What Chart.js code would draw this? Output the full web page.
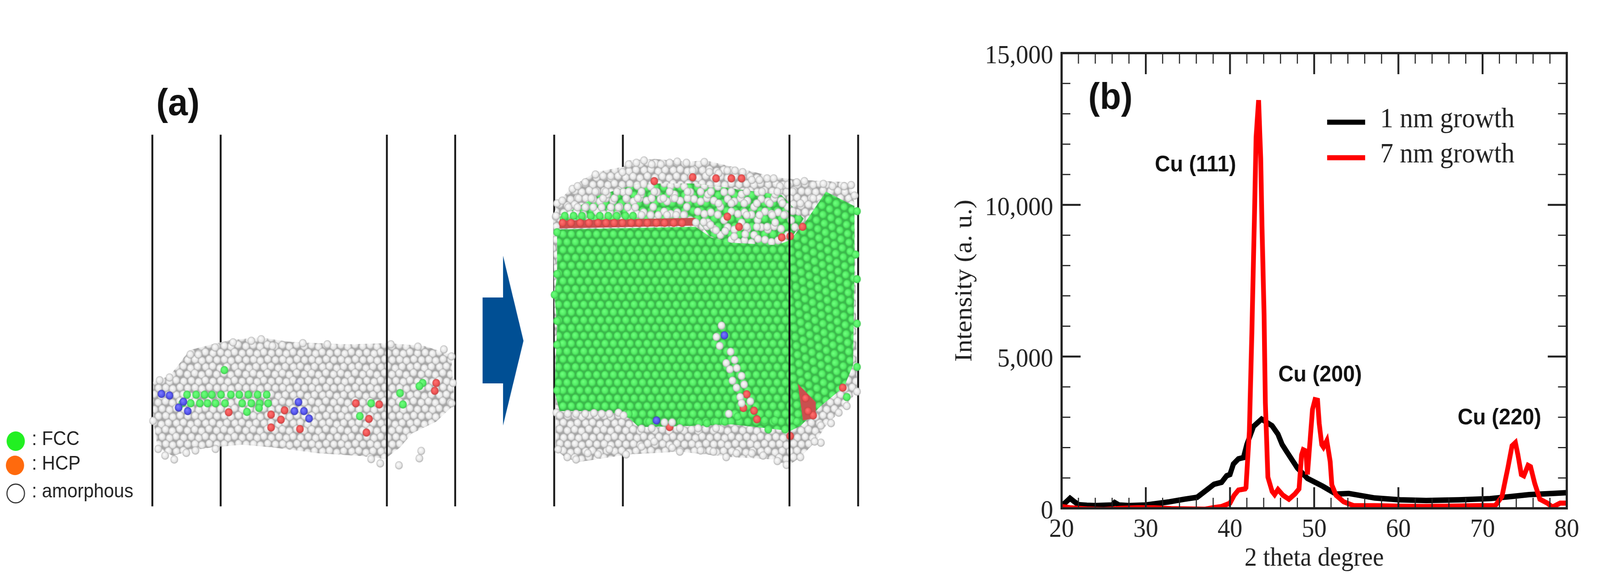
<!DOCTYPE html>
<html><head><meta charset="utf-8">
<script src="https://cdn.jsdelivr.net/npm/chart.js@4"></script>
<style>html,body{margin:0;padding:0;background:#fff;overflow:hidden}
canvas{position:absolute;top:0}</style></head>
<body>
<canvas id="panelA" width="2500" height="1501"></canvas>
<canvas id="panelB" width="1880" height="1501"></canvas>
<script>
// ---------- panel (b) data ----------
const blackX = [20,20.5,21,21.5,22,23,24,25,26,26.3,26.8,28,30,32.8,34.6,36.1,37.4,38.1,39,39.6,40,40.4,41,41.6,42,42.8,43.75,45,45.7,46.2,46.8,48,49.2,51,52.6,54.1,57.2,60.2,63.3,67.2,70.9,73.3,75.5,78.5,80];
const blackY = [80,200,330,220,120,100,90,100,110,190,110,90,110,214,300,364,640,793,857,1072,1115,1458,1630,1670,2100,2700,2940,2720,2440,2100,1840,1330,986,730,470,490,340,280,257,280,320,386,450,493,515];
const redX = [20,21,23,25,27,29,31,33,35,37,38,39,40,40.5,41,41.8,41.9,42.3,42.6,42.9,43.1,43.4,43.65,43.8,44.05,44.2,44.5,45,45.3,45.7,46.3,47,47.7,48.2,48.5,48.7,49,49.2,49.5,49.8,50.1,50.4,50.6,50.9,51.1,51.5,51.9,52.1,52.6,53.5,54.7,57.2,60,63,66,69.4,71.5,72.3,73,73.5,73.9,74.2,74.6,74.9,75.4,75.7,76.2,76.8,77.7,78.3,79.2,80];
const redY = [60,20,-20,-40,0,20,20,-10,-20,-30,20,60,170,430,600,640,680,2540,5800,9540,12230,13450,11530,9300,6400,3480,1030,557,450,620,430,300,470,640,1760,1930,1890,1115,2190,3260,3580,3560,2790,2100,2015,2230,1540,770,430,214,86,86,70,60,70,86,86,386,1330,2060,2165,1760,1115,1070,1415,1370,815,300,170,40,170,170];
const seriesNames = ['1 nm growth','7 nm growth'];
const xAxisTitle = '2 theta degree';
const yAxisTitle = 'Intensity (a. u.)';
const peakLabels = ['Cu (111)','Cu (200)','Cu (220)'];
const peakLabelX = [35.9,50.7,72.0];
const peakLabelY = [11308,4385,2970];

// ---------- panel (a) data (picture-pixel units) ----------
const barrierX = [417,604,1059,1246,1517,1705,2161,2349];
const arrowShape = [[1321,762],[1377,762],[1377,655],[1433,873],[1377,1090],[1377,982],[1321,982]];
const beforeBody = [[419,978],[464,963],[489,934],[518,897],[580,882],[630,871],[713,864],[788,875],[871,879],[954,882],[1061,879],[1161,886],[1235,908],[1244,1036],[1194,1080],[1128,1110],[1095,1146],[1053,1176],[987,1168],[871,1161],[746,1146],[663,1139],[580,1146],[522,1154],[473,1168],[431,1146],[419,1073]];
const afterBody = [[1525,521],[1567,477],[1630,441],[1707,427],[1721,411],[1791,407],[1882,414],[1932,411],[2037,434],[2121,454],[2198,461],[2328,467],[2339,521],[2346,1003],[2311,1043],[2261,1090],[2233,1131],[2191,1171],[2156,1194],[2121,1177],[2002,1171],[1861,1157],[1721,1164],[1581,1184],[1546,1171],[1521,1151],[1521,1057],[1514,555]];
const afterCrystal = [[1525,588],[1904,581],[1946,608],[2002,622],[2128,628],[2163,615],[2163,1104],[2100,1097],[2002,1087],[1932,1090],[1749,1094],[1714,1064],[1651,1053],[1532,1053],[1518,1003],[1525,836],[1518,755],[1525,702]];
const afterSideFace = [[2163,615],[2205,568],[2261,491],[2339,528],[2339,702],[2335,936],[2311,990],[2247,1040],[2191,1091],[2163,1104]];
const afterUpperCrystal = [[1532,555],[1640,500],[1750,470],[1905,470],[2140,500],[2200,560],[2163,615],[2128,628],[2002,622],[1946,608],[1904,560],[1532,565]];
const afterRedBand = [[1532,565],[1904,558],[1904,578],[1532,585]];
const afterRedCluster = [[2184,983],[2233,1030],[2233,1070],[2198,1077]];

const beforeGreen = [[512,1011],[537,1011],[560,1011],[580,1011],[605,1011],[632,1011],[655,1011],[680,1011],[705,1011],[730,1011],[499,1033],[522,1033],[547,1033],[568,1033],[590,1033],[616,1033],[663,1033],[688,1033],[711,1033],[734,1033],[676,1055],[709,1045],[1016,1033],[985,1066],[1095,1007],[1103,1036],[1157,981],[1148,989],[614,948]];
const beforeBlue = [[442,1009],[464,1013],[502,1029],[489,1044],[514,1053],[817,1030],[806,1053],[832,1053],[846,1072]];
const beforeRed = [[626,1056],[742,1062],[769,1075],[821,1099],[1003,1108],[1038,1036],[1194,981],[1190,1001],[1010,1073],[779,1051],[974,1033],[742,1095]];
const beforeGrey = [[1092,1192],[1148,1174],[1153,1155],[1041,1187],[1016,1176],[477,1177],[452,1167],[433,1150],[510,1160],[535,1154],[590,1150],[419,1078],[521,908],[543,908],[589,890],[614,886],[638,877],[688,873],[715,869],[746,886],[829,879],[896,882],[1070,882],[1144,888],[1215,895],[1236,913],[1240,981],[1236,1033],[437,974],[464,967]];
const afterGreyEdge = [[1525,521],[1539,514],[1567,484],[1581,477],[1602,467],[1630,447],[1651,451],[1672,451],[1704,441],[1721,421],[1742,417],[1763,411],[1784,421],[1809,421],[1833,417],[1854,414],[1879,417],[1896,437],[1928,415],[1942,441],[1967,444],[1991,437],[2012,437],[2033,441],[2058,461],[2079,461],[2100,457],[2118,457],[2135,477],[2156,474],[2181,467],[2202,464],[2226,474],[2254,471],[2279,477],[2311,477],[2330,474],[2339,501],[2346,1003],[2318,1040],[2296,1057],[2275,1084],[2247,1090],[2247,1134],[2230,1131],[2191,1171],[2153,1191],[2128,1181],[2089,1167],[2058,1161],[2016,1161],[1988,1171],[1953,1157],[1918,1154],[1861,1157],[1840,1147],[1791,1131],[1756,1144],[1714,1164],[1668,1151],[1637,1164],[1609,1161],[1577,1177],[1553,1171],[1528,1151],[1523,1057],[1521,555]];
const afterGreenEdge = [[2346,541],[2342,652],[2346,715],[2346,829],[2346,940],[2318,1017],[1518,755],[1525,702],[1525,595],[1525,822],[1525,883],[1525,1000],[2103,1100],[2184,1080],[2149,1100],[1721,1060],[1749,1080],[1777,1080],[1868,1080],[1889,1080],[1914,1084],[1935,1084],[1960,1080],[1984,1080],[2019,1067],[2093,1077],[2121,1077],[2181,1080]];
const afterGreenRow = [[1546,553],[1570,553],[1593,553],[1617,553],[1642,553],[1665,553],[1688,553],[1712,553],[1733,553]];
const afterRedRow = [[1540,571],[1563,571],[1588,571],[1612,571],[1637,571],[1659,571],[1681,571],[1704,571],[1728,571],[1749,571],[1772,571],[1797,571],[1819,571],[1844,571],[1867,571]];
const afterRed = [[2197,581],[2140,608],[2163,605],[2044,1010],[2035,1045],[2064,1052],[2072,1074],[2163,1117],[2205,1020],[2226,1064],[2212,1053],[2307,993],[1991,555],[2023,581],[2030,457],[1960,457],[1896,454],[2002,457],[1791,464],[1833,1094]];
const afterBlue = [[1983,859],[1797,1077]];
const afterGreyFront = [[1975,834],[1961,863],[1970,886],[2000,901],[2011,922],[1988,930],[1998,946],[2017,943],[2030,963],[2005,975],[2037,985],[2016,993],[2026,1017],[2054,1028],[2030,1033],[1522,553],[1905,570],[1926,569],[1945,576],[1960,590],[1985,592],[2010,606],[2040,600],[2075,612],[1532,1064],[1554,1060],[1577,1060],[1602,1060],[1626,1058],[1647,1060],[1668,1060],[1693,1057],[1707,1064],[1756,1098],[1784,1097],[1819,1082],[1840,1082],[1861,1097],[1911,1097],[1960,1097],[1995,1060]];
const afterGreyUpper = [[1556,531],[1581,531],[1602,531],[1624,531],[1647,531],[1672,531],[1693,531],[1718,531],[1739,531],[1756,551],[1781,551],[1802,551],[1826,551],[1851,551],[1872,551],[1584,508],[1619,508],[1651,508],[1682,508],[1714,508],[1746,508],[1784,508],[1816,508],[1847,508],[1882,508],[1630,491],[1658,491],[1689,491],[1721,491],[1756,491],[1791,491],[1833,491],[1882,491],[1918,491],[1946,491],[1967,521],[2002,521],[2037,521],[2072,521],[2107,521],[2142,521],[2044,551],[2079,551],[2114,551],[2146,551],[2044,581],[2072,581],[2100,581],[2002,491],[2044,491],[2086,491],[2128,491],[2170,491],[2212,491],[2226,508],[2247,521],[2191,521],[2170,541]];
const legendNames = [': FCC',': HCP',': amorphous'];
const legendMarkerX = [43,41,43];
const legendMarkerY = [1130,1192,1264];
const legendTextY = [1126,1189,1260];
const panelLetter = '(a)';

// The window may be narrower than the 4380-wide design: squeeze the canvases to fit it.
const fitX = Math.min(1, window.innerWidth/4380);
const place=(id,left,w)=>{const c=document.getElementById(id);c.style.left=(left*fitX)+'px';c.style.width=(w*fitX)+'px';c.style.height='1501px';};
place('panelA',0,2500);place('panelB',2500,1880);

// ---------- textures and sphere markers (styling only) ----------
function sphere(d,hi,lo,edge){
  const c=document.createElement('canvas');c.width=c.height=d+2;
  const x=c.getContext('2d'),r=d/2,o=r+1;
  const g=x.createRadialGradient(o-r*.2,o-r*.25,r*.1,o,o,r);
  g.addColorStop(0,hi);g.addColorStop(.65,lo);g.addColorStop(1,edge);
  x.fillStyle=g;x.beginPath();x.arc(o,o,r,0,7);x.fill();
  return c;
}
const G=()=>sphere(21,'#6cff7c','#55ee66','#3cc04c');
const greySphere=()=>sphere(21,'#fbfbfb','#e6e6e6','#a8a8a8');
function tile(w,h,bg,mk,spots){
  const c=document.createElement('canvas');c.width=w;c.height=h;
  const x=c.getContext('2d');
  if(bg){x.fillStyle=bg;x.fillRect(0,0,w,h);}
  const s=mk(),o=s.width/2;
  for(const [a,b] of spots)for(const dx of[-w,0,w])for(const dy of[-h,0,h])x.drawImage(s,a+dx-o,b+dy-o);
  return x.createPattern(c,'repeat');
}
const ctxA=document.getElementById('panelA').getContext('2d');
const greenTex=tile(46,40,'#3cb84c',G,[[0,0],[23,0],[11,20],[34,20]]);
const sideTex=tile(46,40,'#3cb84c',G,[[0,0],[23,0],[11,20],[34,20]]);
sideTex.setTransform(new DOMMatrix().rotate(-38));
const greyTex=tile(80,72,'#a6a6a6',greySphere,[[3,4],[22,2],[42,7],[61,3],[12,19],[33,23],[53,20],[72,24],[2,38],[23,41],[44,39],[64,42],[13,56],[34,58],[54,57],[73,60]]);
const sparseGreyTex=tile(92,72,null,greySphere,[[3,4],[22,10],[60,6],[78,12],[40,26],[14,40],[33,46],[70,38],[88,44],[50,60],[6,66]]);

const pts=a=>a.map(p=>({x:p[0],y:p[1]}));
const poly=(a,fill,order)=>({type:'line',data:pts(a),showLine:false,pointRadius:0,polyFill:fill,order});
const atoms=(a,mk,order)=>({type:'scatter',data:pts(a),pointStyle:mk,order,pointRadius:11,borderWidth:0});
const wall=(x,order)=>({type:'line',data:[{x,y:345},{x,y:1297}],borderColor:'#111',borderWidth:5,pointRadius:0,order});
const polygonFill={id:'polygonFill',beforeDatasetDraw(chart,args){
  const ds=chart.data.datasets[args.index];
  if(!ds.polyFill)return;
  const p=args.meta.data,c=chart.ctx;
  c.save();c.beginPath();p.forEach((e,i)=>i?c.lineTo(e.x,e.y):c.moveTo(e.x,e.y));c.closePath();
  c.fillStyle=ds.polyFill;c.fill();c.restore();
}};
const red=sphere(21,'#ff7070','#ee5555','#c04040'),blue=sphere(21,'#7a7aff','#5555ee','#3a3ab0'),
      green=G(),grey=greySphere();

new Chart(ctxA,{
  type:'scatter',
  data:{datasets:[
    wall(barrierX[0],40),wall(barrierX[1],40),wall(barrierX[3],40),
    wall(barrierX[4],40),wall(barrierX[5],40),wall(barrierX[7],40),
    poly(arrowShape,'#004f94',39),
    poly(beforeBody,greyTex,38),
    atoms(beforeGrey,grey,37),
    atoms(beforeGreen,green,36),
    atoms(beforeRed,red,35),
    atoms(beforeBlue,blue,34),
    poly(afterBody,greyTex,33),
    atoms(afterGreyEdge,grey,32),
    poly(afterUpperCrystal,greenTex,31),
    poly(afterUpperCrystal,sparseGreyTex,30),
    atoms(afterGreyUpper,grey,29.5),
    poly(afterRedBand,'#c9504f',29),
    atoms(afterGreenRow,green,28),
    poly(afterCrystal,greenTex,27),
    poly(afterSideFace,sideTex,26),
    atoms(afterGreenEdge,green,25),
    poly(afterRedCluster,'#c9504f',24),
    atoms(afterRedRow,red,23),
    atoms(afterRed,red,22),
    atoms(afterGreyFront,grey,21),
    atoms(afterBlue,blue,20),
    wall(barrierX[2],5),wall(barrierX[6],5),
    {type:'scatter',data:[{x:legendMarkerX[0],y:legendMarkerY[0]}],pointRadius:25,backgroundColor:'#22f022',borderWidth:0,order:2},
    {type:'scatter',data:[{x:legendMarkerX[1],y:legendMarkerY[1]}],pointRadius:25,backgroundColor:'#ff6a0d',borderWidth:0,order:2},
    {type:'scatter',data:[{x:legendMarkerX[2],y:legendMarkerY[2]}],pointRadius:24,backgroundColor:'#fff',borderColor:'#333',borderWidth:3,order:2}
  ]},
  options:{responsive:false,animation:false,devicePixelRatio:1,layout:{padding:0,autoPadding:false},
    plugins:{legend:{display:false},tooltip:{enabled:false}},
    scales:{x:{type:'linear',display:false,min:0,max:2500},y:{type:'linear',display:false,reverse:true,min:0,max:1501}}},
  plugins:[polygonFill,{id:'panelText',afterDatasetsDraw(chart){
    const c=chart.ctx,sx=chart.scales.x,sy=chart.scales.y;
    c.save();c.fillStyle='#111';c.textBaseline='middle';
    c.font='bold 97px "Liberation Sans"';c.textAlign='center';
    c.fillText(panelLetter,sx.getPixelForValue(487),sy.getPixelForValue(268));
    c.font='50px "Liberation Sans"';c.textAlign='left';c.fillStyle='#222';
    legendNames.forEach((t,i)=>c.fillText(t,sx.getPixelForValue(87),sy.getPixelForValue(legendTextY[i])));
    c.restore();
  }}]
});

// ---------- panel (b) ----------
const axisFont={family:'"Liberation Serif"',size:68};
const series=(xs,ys)=>xs.map((x,i)=>({x,y:ys[i]}));
const frameAndTicks={id:'frameAndTicks',afterDatasetsDraw(chart){
  const c=chart.ctx,a=chart.chartArea,sx=chart.scales.x,sy=chart.scales.y;
  c.save();c.strokeStyle='#222';
  sx.ticks.forEach(t=>{
    const maj=t.value%10===0,p=sx.getPixelForValue(t.value),l=maj?54:27;
    c.lineWidth=maj?5:3;c.beginPath();c.moveTo(p,a.bottom);c.lineTo(p,a.bottom-l);c.moveTo(p,a.top);c.lineTo(p,a.top+l);c.stroke();
  });
  sy.ticks.forEach(t=>{
    const maj=t.value%5000===0,p=sy.getPixelForValue(t.value),l=maj?52:24;
    c.lineWidth=maj?5:3;c.beginPath();c.moveTo(a.left,p);c.lineTo(a.left+l,p);c.moveTo(a.right,p);c.lineTo(a.right-l,p);c.stroke();
  });
  c.lineWidth=6;c.strokeRect(a.left,a.top,a.right-a.left,a.bottom-a.top);
  // peak labels
  c.fillStyle='#111';c.textBaseline='middle';c.textAlign='center';c.font='bold 58px "Liberation Sans"';
  peakLabels.forEach((t,i)=>c.fillText(t,sx.getPixelForValue(peakLabelX[i]),sy.getPixelForValue(peakLabelY[i])));
  c.font='bold 95px "Liberation Sans"';
  c.fillText('(b)',sx.getPixelForValue(25.8),sy.getPixelForValue(13500));
  // legend
  c.font='72px "Liberation Serif"';c.textAlign='left';
  chart.data.datasets.forEach((d,i)=>{
    const yT=i?397:307,yL=i?404:313;
    c.strokeStyle=d.borderColor;c.lineWidth=13;c.beginPath();c.moveTo(3633-2500,yL);c.lineTo(3737-2500,yL);c.stroke();
    c.fillStyle='#222';c.fillText(d.label,3778-2500,yT);
  });
  c.restore();
}};
new Chart(document.getElementById('panelB').getContext('2d'),{
  type:'scatter',
  data:{datasets:[
    {label:seriesNames[0],data:series(blackX,blackY),showLine:true,borderColor:'#000',borderWidth:14,pointRadius:0,tension:0,order:2},
    {label:seriesNames[1],data:series(redX,redY),showLine:true,borderColor:'#ff0000',borderWidth:13,pointRadius:0,tension:0,order:1}
  ]},
  options:{responsive:false,animation:false,devicePixelRatio:1,
    layout:{padding:{top:136,right:91,left:0,bottom:0},autoPadding:false},
    plugins:{legend:{display:false},tooltip:{enabled:false}},
    scales:{
      x:{type:'linear',min:20,max:80,
        afterFit(s){s.height=199;},
        grid:{display:false,drawTicks:false},border:{display:false},
        ticks:{stepSize:2,autoSkip:false,maxRotation:0,color:'#222',font:axisFont,padding:14,
          callback:v=>v%10===0?String(v):''},
        title:{display:true,text:xAxisTitle,color:'#222',font:axisFont,padding:{top:0,bottom:29}}},
      y:{type:'linear',min:0,max:15000,
        afterFit(s){s.width=406;},
        grid:{display:false,drawTicks:false},border:{display:false},
        ticks:{stepSize:1000,autoSkip:false,color:'#222',font:axisFont,padding:23,labelOffset:8,
          callback:v=>v%5000===0?v.toLocaleString('en-US'):''},
        title:{display:true,text:yAxisTitle,color:'#222',font:axisFont,padding:{top:100,bottom:0}}}
    }},
  plugins:[frameAndTicks]
});
</script>
</body></html>
